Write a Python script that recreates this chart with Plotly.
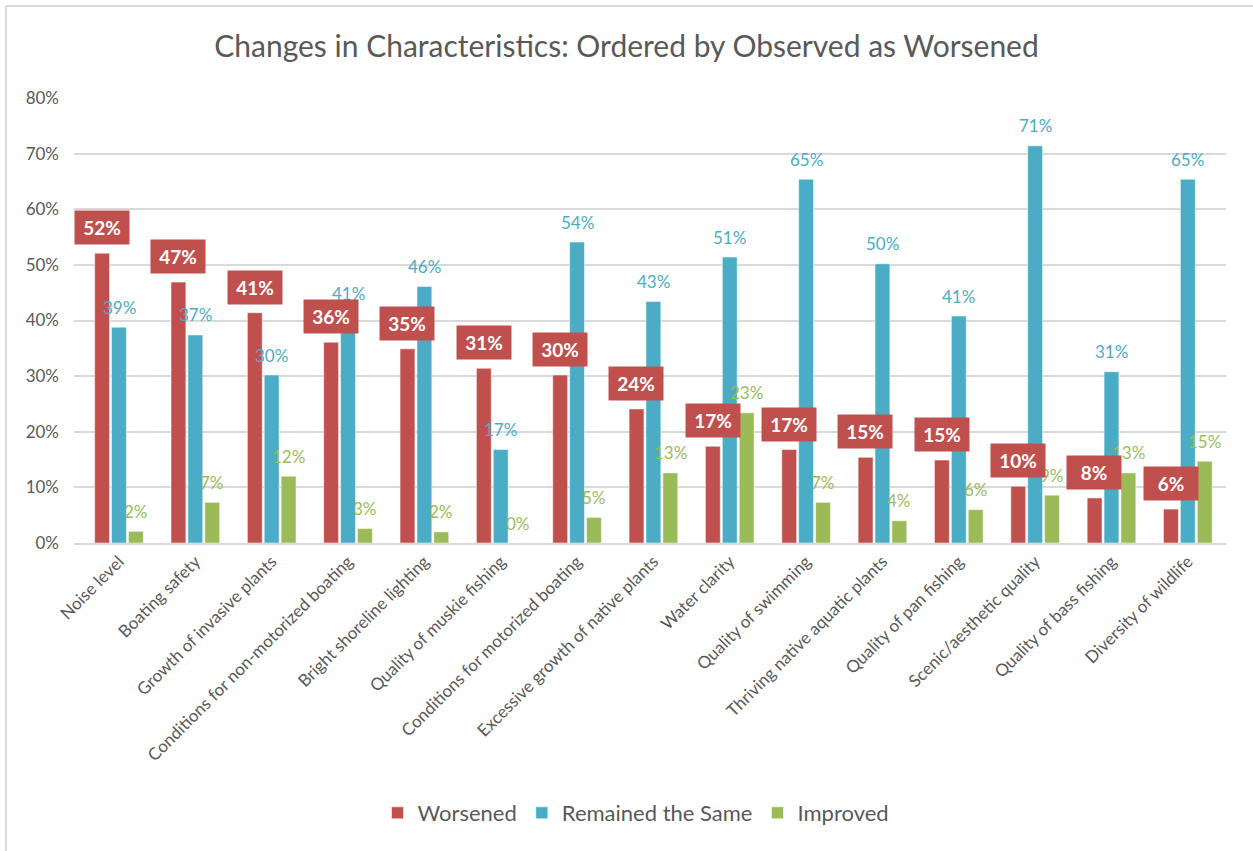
import plotly.graph_objects as go

categories = ["Noise level", "Boating safety", "Growth of invasive plants",
              "Conditions for non-motorized boating", "Bright shoreline lighting",
              "Quality of muskie fishing", "Conditions for motorized boating",
              "Excessive growth of native plants", "Water clarity", "Quality of swimming",
              "Thriving native aquatic plants", "Quality of pan fishing",
              "Scenic/aesthetic quality", "Quality of bass fishing", "Diversity of wildlife"]
worsened = [52.1, 46.9, 41.4, 36.1, 34.9, 31.4, 30.2, 24.1, 17.4, 16.8, 15.4, 14.9, 10.2, 8.1, 6.1]
remained = [38.8, 37.4, 30.2, 41.2, 46.1, 16.8, 54.1, 43.4, 51.4, 65.4, 50.2, 40.8, 71.4, 30.8, 65.4]
improved = [2.1, 7.3, 12.0, 2.6, 2.0, 0.0, 4.6, 12.6, 23.4, 7.3, 4.0, 6.0, 8.6, 12.6, 14.7]

series_names = ["Worsened", "Remained the Same", "Improved"]
colors = ["#C0504D", "#4BACC6", "#9BBB59"]
FONT = "Lato"

W, H = 1253, 851
ML, MR, MT, MB = 74, 27, 98, 308
plot_w = W - ML - MR
plot_h = H - MT - MB
BARGAP = 0.336
slot_px = plot_w / len(categories) * (1 - BARGAP) / 3

fig = go.Figure()
for name, vals, col in zip(series_names, [worsened, remained, improved], colors):
    fig.add_trace(go.Bar(
        x=categories, y=[v / 100 for v in vals], name=name,
        marker=dict(color=col, line=dict(color="rgba(255,255,255,0.5)", width=1)),
        hoverinfo="x+y",
    ))

annotations = []
for i, cat in enumerate(categories):
    for vals, col, k in [(remained, colors[1], 0), (improved, colors[2], 1)]:
        annotations.append(dict(
            x=cat, y=vals[i] / 100, xref="x", yref="y",
            text=f"{round(vals[i]):.0f}%", showarrow=False,
            xshift=k * slot_px, yshift=20, yanchor="middle",
            font=dict(family=FONT, size=17, color=col),
        ))
for i, cat in enumerate(categories):
    # red boxed labels for Worsened
    annotations.append(dict(
        x=cat, y=worsened[i] / 100, xref="x", yref="y",
        text=f"<b>{round(worsened[i]):.0f}%</b>", showarrow=False,
        xshift=-slot_px, yshift=8, yanchor="bottom",
        font=dict(family=FONT, size=19, color="white"),
        bgcolor="#C0504D", width=50, height=29, borderpad=2,
    ))

x_left = (6 - ML) / plot_w
x_right = (W - ML) / plot_w
y_top = (H - MB - 6) / plot_h
y_bot = (H - MB - H) / plot_h

fig.update_layout(
    width=W, height=H,
    margin=dict(l=ML, r=MR, t=MT, b=MB),
    paper_bgcolor="white", plot_bgcolor="white",
    barmode="group", bargap=BARGAP, bargroupgap=0.12,
    title=dict(text="Changes in Characteristics: Ordered by Observed as Worsened",
               x=0.5, xanchor="center", y=1 - 46 / H, yanchor="middle",
               font=dict(family=FONT, size=30, color="#595959")),
    font=dict(family=FONT, color="#595959"),
    xaxis=dict(tickangle=-45, tickfont=dict(family=FONT, size=17, color="#595959"),
               showline=True, linecolor="#d9d9d9", linewidth=2, showgrid=False,
               ticks=""),
    yaxis=dict(range=[0, 0.8], dtick=0.1, tickformat=".0%",
               tickfont=dict(family=FONT, size=17, color="#595959"),
               showgrid=True, gridcolor="#d9d9d9", gridwidth=2, zeroline=False,
               ticklabelstandoff=14),
    legend=dict(orientation="h", x=(636 - ML) / plot_w, xanchor="center",
                y=(H - MB - 813) / plot_h, yanchor="middle",
                font=dict(family=FONT, size=22, color="#595959"),
                itemwidth=30),
    annotations=annotations,
    shapes=[
        dict(type="line", xref="paper", yref="paper", x0=x_left, x1=x_left,
             y0=y_bot, y1=y_top, line=dict(color="#d9d9d9", width=2)),
        dict(type="line", xref="paper", yref="paper", x0=x_left, x1=x_right,
             y0=y_top, y1=y_top, line=dict(color="#d9d9d9", width=2)),
    ],
)

fig.write_html("out.html", config={"displayModeBar": False},
               post_script="document.body.style.margin='0px';")
